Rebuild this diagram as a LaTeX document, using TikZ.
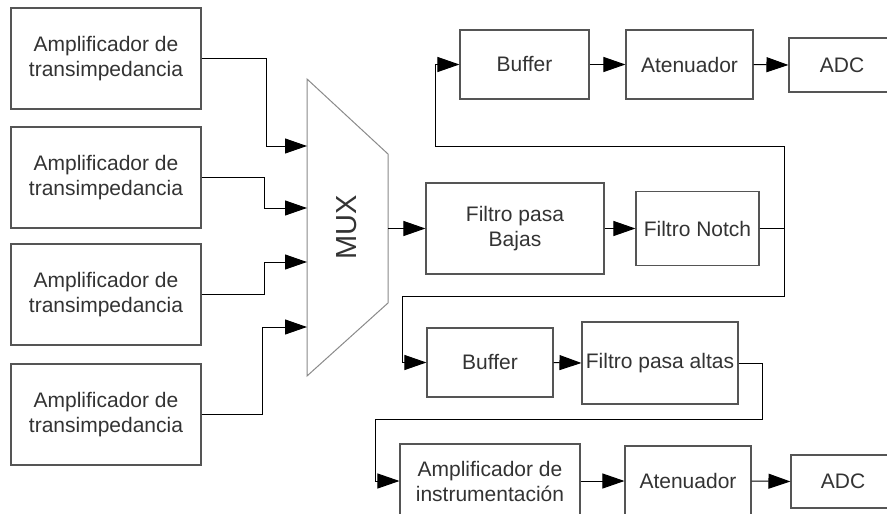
\documentclass[tikz,border=0pt]{standalone}
\usepackage{fontspec}
\newfontfamily\lsf{Liberation Sans}
\usetikzlibrary{arrows.meta,calc}
\definecolor{boxgray}{HTML}{555555}
\definecolor{txtgray}{HTML}{333333}
\definecolor{muxgray}{HTML}{8A8A8A}
\tikzset{
  blk/.style={draw=boxgray, line width=1.1pt, inner sep=0pt, text=txtgray,
    align=center, font=\lsf\fontsize{21}{25}\selectfont},
  conn/.style={draw=black, line width=1pt, -{Triangle[length=22pt,width=15pt]}},
  wire/.style={draw=black, line width=1pt}
}
\begin{document}
\begin{tikzpicture}[x=1pt,y=-1pt]
\useasboundingbox (0,0) rectangle (887,514);
\fill[white] (0,0) rectangle (887,514);
% left amplifiers
\node[blk, minimum width=190pt, minimum height=101pt] (a1) at (106,58.5) {Amplificador de\\transimpedancia};
\node[blk, minimum width=190pt, minimum height=101pt] (a2) at (106,177.5) {Amplificador de\\transimpedancia};
\node[blk, minimum width=190pt, minimum height=101pt] (a3) at (106,294.5) {Amplificador de\\transimpedancia};
\node[blk, minimum width=190pt, minimum height=101pt] (a4) at (106,414.5) {Amplificador de\\transimpedancia};
% MUX
\draw[muxgray, line width=1pt] (307,79) -- (388,154) -- (388,303) -- (307,376) -- cycle;
\node[rotate=90, font=\lsf\fontsize{29}{31}\selectfont, text=txtgray] (mux) at (347,227.5) {MUX};
\coordinate (m1) at (307,146);
\coordinate (m2) at (307,208);
\coordinate (m3) at (307,262);
\coordinate (m4) at (307,327);
\coordinate (mo) at (388,228.5);
% right blocks
\node[blk, minimum width=129pt, minimum height=69pt] (buf1) at (524.5,64.5) {Buffer};
\node[blk, minimum width=127pt, minimum height=69pt] (att1) at (689.5,64.5) {Atenuador};
\node[blk, minimum width=106pt, minimum height=54pt] (adc1) at (842,65) {ADC};
\node[blk, minimum width=178pt, minimum height=91pt] (fpb) at (515,228.5) {Filtro pasa\\Bajas};
\node[blk, minimum width=123pt, minimum height=74pt] (notch) at (697.5,228.5) {Filtro Notch};
\node[blk, minimum width=126pt, minimum height=69pt] (buf2) at (490,362.5) {Buffer};
\node[blk, minimum width=156pt, minimum height=82pt] (fpa) at (660,363) {Filtro pasa altas};
\node[blk, minimum width=180pt, minimum height=74pt] (ain) at (490,481) {Amplificador de\\instrumentación};
\node[blk, minimum width=126pt, minimum height=70pt] (att2) at (688,481) {Atenuador};
\node[blk, minimum width=104pt, minimum height=53pt] (adc2) at (843,481.5) {ADC};
\coordinate (jt) at (784,146);
\coordinate (jb) at (784,296);
% connectors
\draw[conn] (a1.east) -- ++(65,0) |- (m1);
\draw[conn] (a2.east) -- ++(63,0) |- (m2);
\draw[conn] (a3.east) -- ++(63,0) |- (m3);
\draw[conn] (a4.east) -- ++(61,0) |- (m4);
\draw[conn] (mo) -- (fpb.west);
\draw[conn] (fpb.east) -- (notch.west);
\draw[conn] (notch.east) -| (jt) -| ([xshift=-24pt]buf1.west) -- (buf1.west);
\draw[conn] (notch.east) -| (jb) -| ([xshift=-24pt]buf2.west) -- (buf2.west);
\draw[conn] (buf1.east) -- (att1.west);
\draw[conn] (att1.east) -- (adc1.west);
\draw[conn] (buf2.east) -- (fpa.west);
\draw[conn] (fpa.east) -- ++(24,0) -- ++(0,56) -| ([xshift=-24pt]ain.west) -- (ain.west);
\draw[conn] (ain.east) -- (att2.west);
\draw[conn] (att2.east) -- (adc2.west);
\end{tikzpicture}
\end{document}
